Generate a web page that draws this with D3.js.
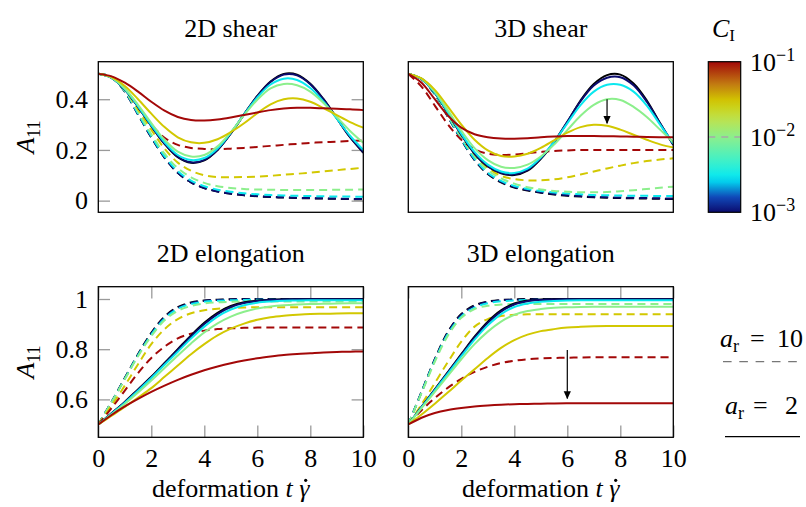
<!DOCTYPE html>
<html>
<head>
<meta charset="utf-8">
<script src="https://cdn.jsdelivr.net/npm/d3@7"></script>
<style>
  body { margin: 0; background: #fff; }
  svg { display: block; }
</style>
</head>
<body>
<svg id="fig" width="806" height="507"></svg>
<script>
// Sampling grid of the deformation t·γ̇
const tGrid = [0, 0.5, 1, 1.5, 2, 2.5, 3, 3.5, 4, 4.5, 5, 5.5, 6, 6.5, 7, 7.5, 8, 8.5, 9, 9.5, 10];

// Interaction coefficient C_I of each curve (0 = no interaction, drawn black)
const interactionLevels = [0, 1e-3, 3e-3, 1e-2, 3e-2, 1e-1];

// A11 curves, one row per interaction level, sampled on tGrid
const shear2D_ar2 = [
  [0.5,0.484,0.438,0.370,0.295,0.224,0.171,0.149,0.159,0.200,0.265,0.340,0.413,0.470,0.500,0.497,0.461,0.400,0.325,0.250,0.189],
  [0.5,0.484,0.438,0.370,0.295,0.225,0.173,0.151,0.161,0.201,0.265,0.340,0.412,0.468,0.497,0.494,0.459,0.399,0.325,0.251,0.191],
  [0.5,0.484,0.439,0.372,0.298,0.230,0.180,0.160,0.168,0.206,0.268,0.340,0.407,0.458,0.481,0.476,0.444,0.390,0.323,0.256,0.200],
  [0.5,0.485,0.442,0.378,0.306,0.240,0.193,0.174,0.180,0.214,0.270,0.337,0.398,0.443,0.460,0.455,0.430,0.385,0.330,0.275,0.228],
  [0.5,0.487,0.452,0.400,0.343,0.290,0.250,0.230,0.228,0.242,0.270,0.305,0.345,0.380,0.400,0.403,0.390,0.365,0.337,0.310,0.288],
  [0.5,0.490,0.465,0.430,0.390,0.355,0.330,0.318,0.316,0.320,0.328,0.338,0.348,0.357,0.363,0.366,0.366,0.364,0.362,0.360,0.357]
];
const shear2D_ar10 = [
  [0.5,0.488,0.430,0.340,0.250,0.170,0.110,0.072,0.050,0.036,0.027,0.021,0.017,0.014,0.012,0.010,0.009,0.008,0.007,0.006,0.005],
  [0.5,0.488,0.430,0.340,0.250,0.170,0.110,0.072,0.050,0.036,0.028,0.022,0.018,0.015,0.013,0.011,0.010,0.009,0.008,0.007,0.006],
  [0.5,0.488,0.432,0.343,0.254,0.175,0.116,0.079,0.057,0.043,0.035,0.029,0.025,0.022,0.020,0.019,0.018,0.017,0.016,0.016,0.015],
  [0.5,0.488,0.434,0.350,0.262,0.185,0.128,0.092,0.070,0.057,0.050,0.046,0.044,0.043,0.042,0.042,0.042,0.042,0.043,0.043,0.044],
  [0.5,0.488,0.440,0.360,0.280,0.205,0.150,0.118,0.100,0.093,0.092,0.093,0.095,0.098,0.102,0.106,0.110,0.115,0.120,0.125,0.130],
  [0.5,0.487,0.440,0.370,0.300,0.248,0.220,0.208,0.204,0.203,0.205,0.208,0.212,0.216,0.220,0.224,0.228,0.230,0.233,0.235,0.237]
];
const shear3D_ar2 = [
  [0.5,0.480,0.425,0.345,0.260,0.185,0.135,0.108,0.101,0.118,0.165,0.230,0.310,0.395,0.460,0.495,0.497,0.462,0.395,0.305,0.220],
  [0.5,0.480,0.425,0.345,0.261,0.187,0.137,0.110,0.104,0.121,0.167,0.232,0.311,0.392,0.454,0.485,0.487,0.455,0.390,0.305,0.222],
  [0.5,0.480,0.426,0.347,0.264,0.192,0.142,0.115,0.109,0.126,0.170,0.232,0.305,0.377,0.430,0.457,0.457,0.430,0.375,0.300,0.225],
  [0.5,0.481,0.430,0.355,0.276,0.207,0.160,0.134,0.129,0.142,0.174,0.221,0.278,0.335,0.378,0.400,0.397,0.370,0.330,0.280,0.230],
  [0.5,0.482,0.437,0.370,0.300,0.240,0.198,0.176,0.174,0.185,0.208,0.238,0.268,0.290,0.299,0.295,0.280,0.260,0.240,0.222,0.210],
  [0.5,0.465,0.400,0.335,0.288,0.262,0.250,0.245,0.244,0.246,0.250,0.253,0.255,0.255,0.255,0.254,0.253,0.252,0.251,0.250,0.250]
];
const shear3D_ar10 = [
  [0.5,0.480,0.420,0.330,0.240,0.160,0.105,0.072,0.052,0.040,0.031,0.024,0.019,0.016,0.013,0.011,0.010,0.009,0.008,0.007,0.006],
  [0.5,0.480,0.420,0.330,0.241,0.162,0.107,0.074,0.054,0.042,0.033,0.026,0.021,0.018,0.015,0.013,0.012,0.011,0.010,0.009,0.008],
  [0.5,0.480,0.420,0.332,0.243,0.165,0.110,0.078,0.058,0.046,0.038,0.032,0.028,0.025,0.022,0.021,0.020,0.019,0.019,0.018,0.018],
  [0.5,0.480,0.422,0.336,0.250,0.175,0.120,0.088,0.067,0.053,0.044,0.038,0.035,0.033,0.033,0.034,0.037,0.041,0.046,0.051,0.055],
  [0.5,0.480,0.425,0.345,0.260,0.185,0.130,0.098,0.085,0.080,0.080,0.084,0.092,0.103,0.115,0.127,0.138,0.148,0.156,0.162,0.167],
  [0.5,0.450,0.375,0.300,0.240,0.203,0.185,0.180,0.182,0.187,0.192,0.196,0.198,0.200,0.200,0.200,0.200,0.200,0.200,0.200,0.200]
];
const elong2D_ar2 = [
  [0.5,0.545,0.590,0.640,0.690,0.745,0.800,0.855,0.905,0.945,0.972,0.987,0.994,0.997,0.999,1,1,1,1,1,1],
  [0.5,0.544,0.589,0.638,0.688,0.742,0.797,0.851,0.900,0.940,0.968,0.984,0.992,0.996,0.998,0.999,0.999,0.999,0.999,0.999,0.999],
  [0.5,0.543,0.587,0.635,0.685,0.738,0.790,0.843,0.890,0.930,0.958,0.975,0.985,0.990,0.993,0.994,0.995,0.995,0.995,0.995,0.995],
  [0.5,0.540,0.582,0.627,0.675,0.725,0.775,0.823,0.867,0.903,0.930,0.949,0.962,0.970,0.975,0.978,0.980,0.981,0.982,0.983,0.983],
  [0.5,0.535,0.570,0.607,0.645,0.690,0.735,0.780,0.820,0.855,0.882,0.902,0.917,0.927,0.933,0.937,0.940,0.941,0.942,0.943,0.943],
  [0.5,0.538,0.572,0.602,0.630,0.655,0.678,0.698,0.716,0.731,0.744,0.755,0.764,0.771,0.777,0.781,0.784,0.787,0.789,0.790,0.791]
];
const elong2D_ar10 = [
  [0.5,0.590,0.685,0.780,0.865,0.930,0.968,0.986,0.994,0.997,0.999,1,1,1,1,1,1,1,1,1,1],
  [0.5,0.590,0.684,0.778,0.862,0.927,0.965,0.984,0.993,0.996,0.998,0.999,0.999,0.999,0.999,0.999,0.999,0.999,0.999,0.999,0.999],
  [0.5,0.589,0.682,0.776,0.858,0.922,0.961,0.980,0.989,0.993,0.995,0.996,0.997,0.997,0.997,0.997,0.997,0.997,0.997,0.997,0.997],
  [0.5,0.588,0.680,0.772,0.852,0.915,0.953,0.972,0.982,0.987,0.989,0.990,0.990,0.990,0.990,0.990,0.990,0.990,0.990,0.990,0.990],
  [0.5,0.575,0.655,0.740,0.820,0.880,0.920,0.943,0.955,0.961,0.964,0.966,0.967,0.967,0.967,0.967,0.967,0.967,0.967,0.967,0.967],
  [0.5,0.565,0.635,0.705,0.765,0.810,0.843,0.862,0.874,0.880,0.883,0.885,0.886,0.886,0.886,0.886,0.886,0.886,0.886,0.886,0.886]
];
const elong3D_ar2 = [
  [0.5,0.570,0.640,0.710,0.780,0.850,0.910,0.955,0.982,0.994,0.998,1,1,1,1,1,1,1,1,1,1],
  [0.5,0.569,0.638,0.708,0.777,0.846,0.905,0.950,0.978,0.991,0.996,0.998,0.999,0.999,0.999,0.999,0.999,0.999,0.999,0.999,0.999],
  [0.5,0.568,0.636,0.704,0.772,0.838,0.895,0.940,0.968,0.982,0.989,0.992,0.994,0.995,0.995,0.995,0.995,0.995,0.995,0.995,0.995],
  [0.5,0.565,0.630,0.695,0.760,0.820,0.870,0.910,0.937,0.952,0.960,0.965,0.967,0.968,0.969,0.969,0.969,0.969,0.969,0.969,0.969],
  [0.5,0.540,0.583,0.628,0.675,0.720,0.765,0.805,0.836,0.858,0.872,0.880,0.886,0.889,0.891,0.892,0.892,0.892,0.892,0.892,0.892],
  [0.5,0.527,0.546,0.558,0.566,0.572,0.576,0.579,0.581,0.582,0.583,0.584,0.585,0.585,0.585,0.585,0.585,0.585,0.585,0.585,0.585]
];
const elong3D_ar10 = [
  [0.5,0.630,0.760,0.870,0.940,0.975,0.990,0.996,0.998,1,1,1,1,1,1,1,1,1,1,1,1],
  [0.5,0.629,0.758,0.867,0.937,0.972,0.988,0.995,0.997,0.998,0.999,0.999,0.999,0.999,0.999,0.999,0.999,0.999,0.999,0.999,0.999],
  [0.5,0.628,0.755,0.862,0.930,0.966,0.983,0.991,0.994,0.996,0.997,0.997,0.997,0.997,0.997,0.997,0.997,0.997,0.997,0.997,0.997],
  [0.5,0.625,0.750,0.855,0.925,0.960,0.973,0.978,0.980,0.980,0.980,0.980,0.980,0.980,0.980,0.980,0.980,0.980,0.980,0.980,0.980],
  [0.5,0.580,0.665,0.750,0.830,0.890,0.920,0.932,0.937,0.939,0.939,0.939,0.939,0.939,0.939,0.939,0.939,0.939,0.939,0.939,0.939],
  [0.5,0.557,0.605,0.647,0.682,0.710,0.730,0.745,0.754,0.760,0.763,0.765,0.766,0.767,0.768,0.768,0.768,0.768,0.768,0.768,0.768]
];

// Tick values
const xTickValues = [0, 2, 4, 6, 8, 10];
const shearYTicks = [0, 0.2, 0.4];
const elongYTicks = [0.6, 0.8, 1];
const colorbarTicks = [1e-3, 1e-2, 1e-1];
const colorbarExponents = ["\u22123", "\u22122", "\u22121"];

// Trend arrows (start/end in data units)
const shearArrow = [[7.5, 0.40], [7.5, 0.305]];
const elongArrow = [[6.0, 0.797], [6.0, 0.604]];

const FONT = "Liberation Serif";
const svg = d3.select("#fig");
const W = 265, H = 150.6;

// Jet-like colour map on log10(C_I), normalised to [0,1]
const cmapStops = [
  [0.00, "#0b0b6e"], [0.10, "#1048b8"], [0.22, "#00e6f6"], [0.32, "#34f0d0"],
  [0.50, "#8cef8c"], [0.62, "#bee24c"], [0.74, "#d2c800"], [0.86, "#c07412"], [1.00, "#a30808"]
];
const cmap = d3.scaleLinear()
  .domain(cmapStops.map(d => d[0]))
  .range(cmapStops.map(d => d[1]))
  .interpolate(d3.interpolateRgb)
  .clamp(true);
const cNorm = d3.scaleLog().domain([1e-3, 1e-1]).range([0, 1]);
const colorOf = c => c === 0 ? "#000" : cmap(cNorm(c));

const defs = svg.append("defs");
defs.append("marker")
  .attr("id", "arrowHead").attr("viewBox", "0 0 10 10")
  .attr("refX", 9).attr("refY", 5)
  .attr("markerWidth", 8).attr("markerHeight", 8)
  .attr("markerUnits", "userSpaceOnUse").attr("orient", "auto")
  .append("path").attr("d", "M0,0.5 L10,5 L0,9.5 Z").attr("fill", "#000");

const panels = [
  { title: "2D shear", left: 98.3, top: 61.7, yDomain: [-0.046, 0.548], yTicks: shearYTicks,
    solid: shear2D_ar2, dashed: shear2D_ar10, yAxis: true, xAxis: false },
  { title: "3D shear", left: 408.3, top: 61.7, yDomain: [-0.046, 0.548], yTicks: shearYTicks,
    solid: shear3D_ar2, dashed: shear3D_ar10, yAxis: false, xAxis: false, arrow: shearArrow },
  { title: "2D elongation", left: 98.3, top: 286.7, yDomain: [0.449, 1.049], yTicks: elongYTicks,
    solid: elong2D_ar2, dashed: elong2D_ar10, yAxis: true, xAxis: true },
  { title: "3D elongation", left: 408.3, top: 286.7, yDomain: [0.449, 1.049], yTicks: elongYTicks,
    solid: elong3D_ar2, dashed: elong3D_ar10, yAxis: false, xAxis: true, arrow: elongArrow }
];

const fmtY = v => v === 0 ? "0" : String(+v.toFixed(1));

function styleAxis(g) {
  g.attr("font-family", FONT).attr("font-size", 26);
  g.select(".domain").remove();
  g.selectAll(".tick line").attr("stroke", "#9a9a9a").attr("stroke-width", 1.3);
  g.selectAll(".tick text").attr("fill", "#000").style("font-family", FONT).style("font-size", "26px");
}

// text helper with the serif face set inline
const addText = (sel, size) => sel.append("text").style("font-family", FONT).style("font-size", size + "px").attr("fill", "#000");

panels.forEach((p, i) => {
  const g = svg.append("g").attr("transform", `translate(${p.left},${p.top})`);
  const x = d3.scaleLinear().domain([0, 10]).range([0, W]);
  const y = d3.scaleLinear().domain(p.yDomain).range([H, 0]);

  defs.append("clipPath").attr("id", "clip" + i)
    .append("rect").attr("width", W).attr("height", H);

  // inward ticks, mirrored on the opposite side
  if (p.yAxis) {
    g.append("g").call(d3.axisLeft(y).tickValues(p.yTicks).tickSize(-11.7).tickPadding(10.3).tickFormat(fmtY)).call(styleAxis);
    g.append("g").attr("transform", `translate(${W},0)`)
      .call(d3.axisRight(y).tickValues(p.yTicks).tickSize(-11.7).tickFormat("")).call(styleAxis);
  }
  if (p.xAxis) {
    g.append("g").attr("transform", `translate(0,${H})`)
      .call(d3.axisBottom(x).tickValues(xTickValues).tickSize(-11.7).tickPadding(11).tickFormat(d3.format("d"))).call(styleAxis);
    g.append("g")
      .call(d3.axisTop(x).tickValues(xTickValues).tickSize(-11.7).tickFormat("")).call(styleAxis);
  }

  const line = d3.line()
    .x((d, k) => x(tGrid[k]))
    .y(d => y(d))
    .curve(d3.curveCatmullRom.alpha(0.5));

  const curves = g.append("g").attr("clip-path", `url(#clip${i})`);
  // dashed (a_r = 10) first, solid (a_r = 2) on top, low C_I first
  p.dashed.forEach((vals, k) => {
    curves.append("path").attr("d", line(vals))
      .attr("fill", "none").attr("stroke", colorOf(interactionLevels[k]))
      .attr("stroke-width", 2).attr("stroke-dasharray", "8,5");
  });
  p.solid.forEach((vals, k) => {
    curves.append("path").attr("d", line(vals))
      .attr("fill", "none").attr("stroke", colorOf(interactionLevels[k]))
      .attr("stroke-width", 2);
  });

  if (p.arrow) {
    g.append("line")
      .attr("x1", x(p.arrow[0][0])).attr("y1", y(p.arrow[0][1]))
      .attr("x2", x(p.arrow[1][0])).attr("y2", y(p.arrow[1][1]))
      .attr("stroke", "#000").attr("stroke-width", 1.2)
      .attr("marker-end", "url(#arrowHead)");
  }

  g.append("rect").attr("width", W).attr("height", H)
    .attr("fill", "none").attr("stroke", "#000").attr("stroke-width", 1.3);

  // panel title
  addText(g, 26).attr("x", W / 2).attr("y", -25)
    .attr("text-anchor", "middle").text(p.title);

  if (p.yAxis) {
    const t = addText(g, 26)
      .attr("transform", `translate(${34 - p.left},${H / 2}) rotate(-90)`)
      .attr("text-anchor", "middle");
    t.append("tspan").attr("font-style", "italic").text("A");
    t.append("tspan").style("font-size", "18px").attr("dy", 6).text("11");
  }
  if (p.xAxis) {
    const t = addText(g, 26).attr("x", W / 2).attr("y", H + 60)
      .attr("text-anchor", "middle");
    t.append("tspan").text("deformation ");
    t.append("tspan").attr("font-style", "italic").text("t ");
    t.append("tspan").attr("font-style", "italic").text("\u03B3");
    // dot over gamma (time derivative)
    const node = t.node();
    const ext = node.getExtentOfChar(node.getNumberOfChars() - 1);
    g.append("circle")
      .attr("cx", ext.x + ext.width * 0.62).attr("cy", H + 60 - 17)
      .attr("r", 1.6).attr("fill", "#000");
  }
});

// colour bar
const cb = { left: 708.3, top: 61.7, w: 32.4, h: 150.6 };
const cbY = d3.scaleLog().domain([1e-3, 1e-1]).range([cb.top + cb.h, cb.top]);
const grad = defs.append("linearGradient").attr("id", "cbGrad")
  .attr("x1", 0).attr("y1", 1).attr("x2", 0).attr("y2", 0);
d3.range(0, 1.0001, 0.05).forEach(s => {
  grad.append("stop").attr("offset", s).attr("stop-color", cmap(s));
});
svg.append("rect").attr("x", cb.left).attr("y", cb.top).attr("width", cb.w).attr("height", cb.h)
  .attr("fill", "url(#cbGrad)");
svg.append("line").attr("x1", cb.left).attr("x2", cb.left + cb.w)
  .attr("y1", cbY(1e-2)).attr("y2", cbY(1e-2))
  .attr("stroke", "#a8a8a8").attr("stroke-width", 1.3).attr("stroke-dasharray", "7,6");
svg.append("rect").attr("x", cb.left).attr("y", cb.top).attr("width", cb.w).attr("height", cb.h)
  .attr("fill", "none").attr("stroke", "#000").attr("stroke-width", 1.2);
colorbarTicks.forEach((v, k) => {
  const t = addText(svg, 26).attr("x", 750).attr("y", cbY(v) + 9);
  t.append("tspan").text("10");
  t.append("tspan").style("font-size", "18px").attr("dy", -10).text(colorbarExponents[k]);
});
const cLabel = addText(svg, 26).attr("x", 712).attr("y", 37);
cLabel.append("tspan").attr("font-style", "italic").text("C");
cLabel.append("tspan").style("font-size", "17px").attr("dy", 4).text("I");

// line-style legend
function arLabel(xA, yBase, value, xEq, xVal) {
  const t = addText(svg, 26).attr("y", yBase);
  t.append("tspan").attr("x", xA).attr("font-style", "italic").text("a");
  t.append("tspan").style("font-size", "18px").attr("dy", 5).text("r");
  t.append("tspan").attr("x", xEq).attr("dy", -5).text("=");
  t.append("tspan").attr("x", xVal).text(value);
}
arLabel(720, 347, "10", 750, 777);
svg.append("line").attr("x1", 723).attr("x2", 797).attr("y1", 361.7).attr("y2", 361.7)
  .attr("stroke", "#777").attr("stroke-width", 1.3).attr("stroke-dasharray", "8.6,7.7");
arLabel(725, 414, "2", 753, 785);
svg.append("line").attr("x1", 725).attr("x2", 800).attr("y1", 436.7).attr("y2", 436.7)
  .attr("stroke", "#000").attr("stroke-width", 1.3);
</script>
</body>
</html>
